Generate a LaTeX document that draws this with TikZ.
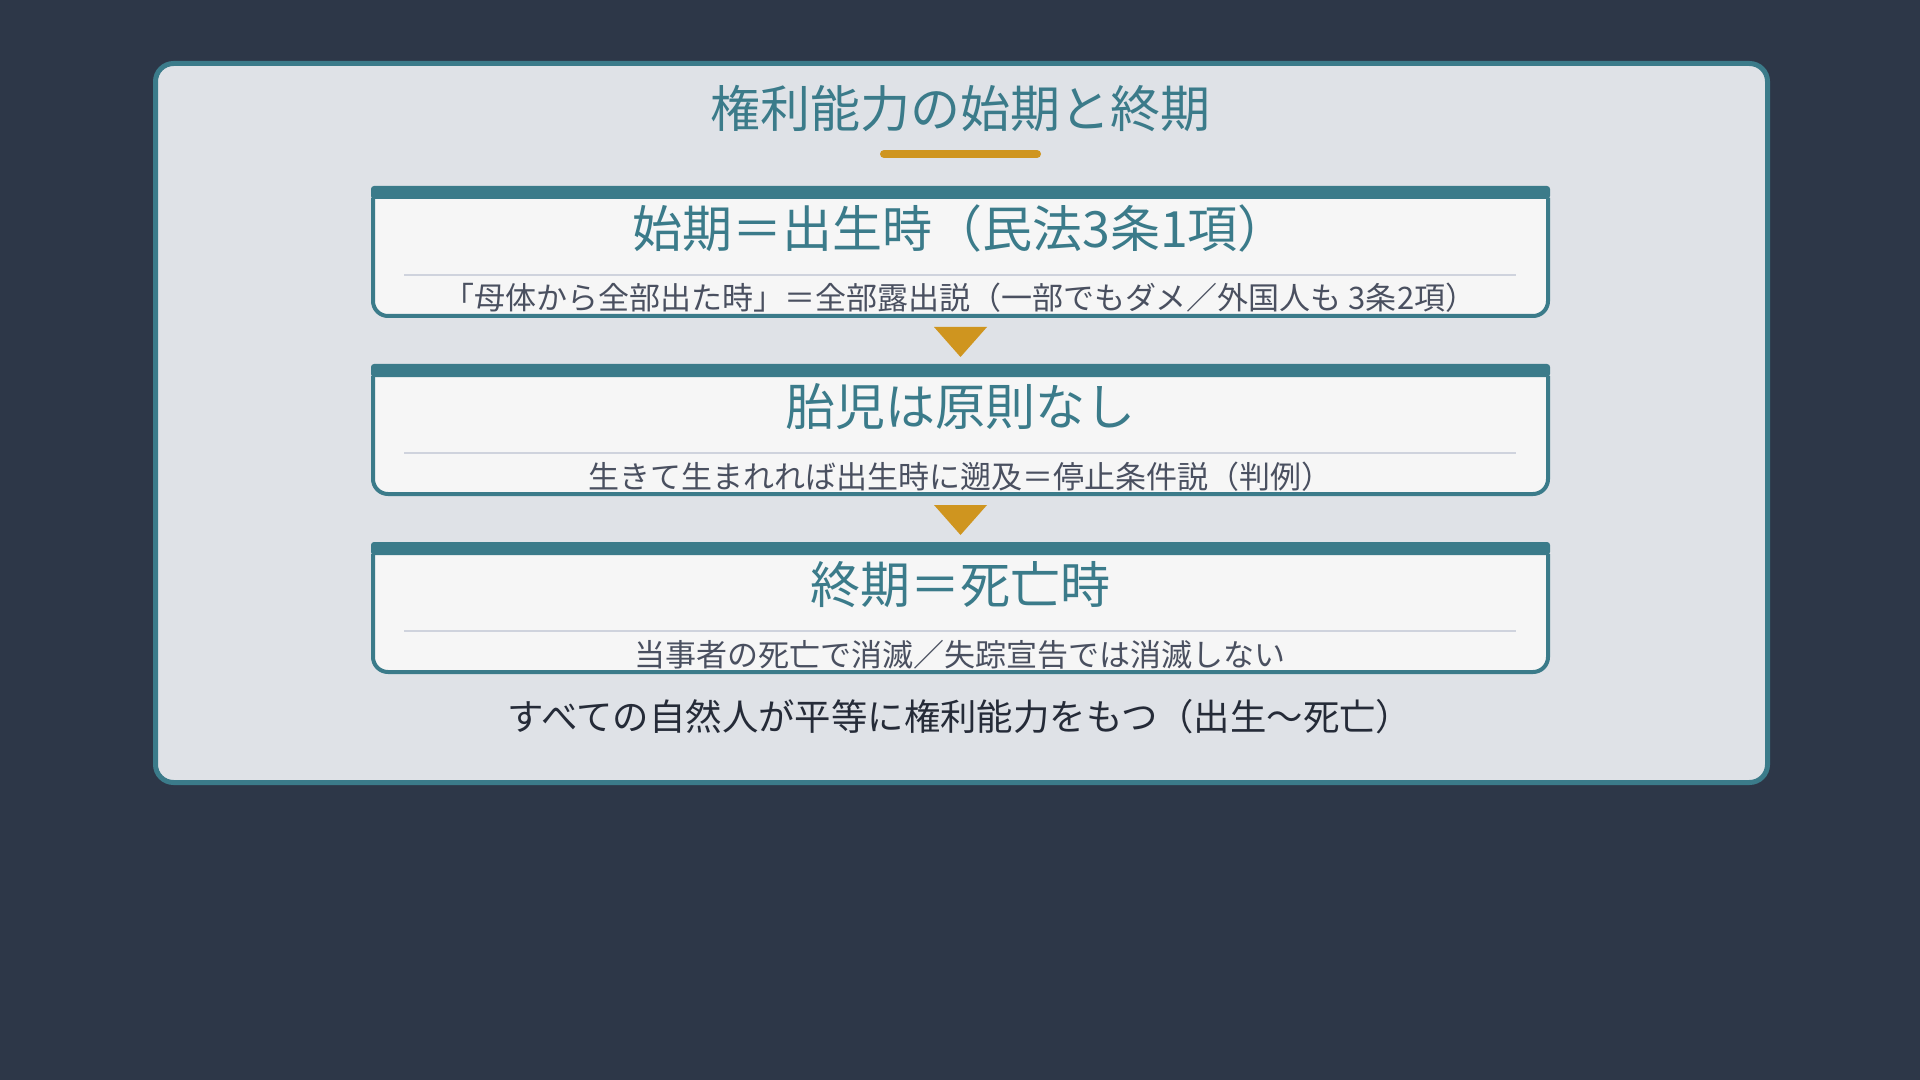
\documentclass[tikz,border=0pt]{standalone}
\usepackage{fontspec}
\setmainfont{Noto Sans CJK JP}
\usepackage{tikz}
\usepackage{xcolor}

\definecolor{bgnavy}{HTML}{2D3748}
\definecolor{panelgray}{HTML}{DFE2E7}
\definecolor{tealline}{HTML}{3B7B8A}
\definecolor{goldmark}{HTML}{CF951F}
\definecolor{cardwhite}{HTML}{F6F6F6}
\definecolor{rulegray}{HTML}{CFD3DD}
\definecolor{subgray}{HTML}{4A5060}
\definecolor{footdark}{HTML}{252B38}

\begin{document}
\begin{tikzpicture}[x=0.5pt, y=-0.5pt,
    titletext/.style={text=tealline, inner sep=0pt, font=\fontsize{25}{30}\selectfont},
    headtext/.style={text=tealline, inner sep=0pt, font=\fontsize{25}{30}\selectfont},
    subtext/.style={text=subgray, inner sep=0pt, font=\fontsize{15.5}{18}\selectfont},
    foottext/.style={text=footdark, inner sep=0pt, font=\fontsize{18.2}{21}\selectfont},
    cardframe/.style={fill=cardwhite, draw=tealline, line width=2pt, rounded corners=7.5pt},
    cardbar/.style={fill=tealline, rounded corners=1.5pt},
    sepline/.style={draw=rulegray, line width=1pt},
    downmark/.style={fill=goldmark}]
        \useasboundingbox (0,0) rectangle (1920,1080);

        % Background and panel
        \fill[bgnavy] (0,0) rectangle (1920,1080);
        \draw[fill=panelgray, draw=tealline, line width=2.5pt, rounded corners=9pt] (155.5,63.5) rectangle (1767.5,782.5);

        % Title
        \node[titletext] (title) at (960,109) {権利能力の始期と終期};
        \draw[goldmark, line width=4pt, line cap=round] (884,154) -- (1037,154);

        % Card 1
        \draw[cardframe] (373,198) -- (373,316) -- (1548,316) -- (1548,198);
        \fill[cardbar] (371,186) rectangle (1550,199);
        \draw[sepline] (404,275) -- (1516,275);
        \node[headtext] (head1) at (960,229) {始期＝出生時（民法3条1項）};
        \node[subtext] (sub1) at (960,298) {「母体から全部出た時」＝全部露出説（一部でもダメ／外国人も 3条2項）};

        % Arrow 1
        \coordinate (down1) at (960.5,342);
        \fill[downmark] (down1) ++(-26.5,-15) -- ++(53,0) -- ++(-26.5,30) -- cycle;

        % Card 2
        \draw[cardframe] (373,376) -- (373,494) -- (1548,494) -- (1548,376);
        \fill[cardbar] (371,364) rectangle (1550,377);
        \draw[sepline] (404,453) -- (1516,453);
        \node[headtext] (head2) at (960,407) {胎児は原則なし};
        \node[subtext] (sub2) at (960,477) {生きて生まれれば出生時に遡及＝停止条件説（判例）};

        % Arrow 2
        \coordinate (down2) at (960.5,520);
        \fill[downmark] (down2) ++(-26.5,-15) -- ++(53,0) -- ++(-26.5,30) -- cycle;

        % Card 3
        \draw[cardframe] (373,554) -- (373,672) -- (1548,672) -- (1548,554);
        \fill[cardbar] (371,542) rectangle (1550,555);
        \draw[sepline] (404,631) -- (1516,631);
        \node[headtext] (head3) at (960,585) {終期＝死亡時};
        \node[subtext] (sub3) at (960,655) {当事者の死亡で消滅／失踪宣告では消滅しない};

        % Footer
        \node[foottext] (footer) at (960,717) {すべての自然人が平等に権利能力をもつ（出生〜死亡）};
    \end{tikzpicture}
\end{document}
